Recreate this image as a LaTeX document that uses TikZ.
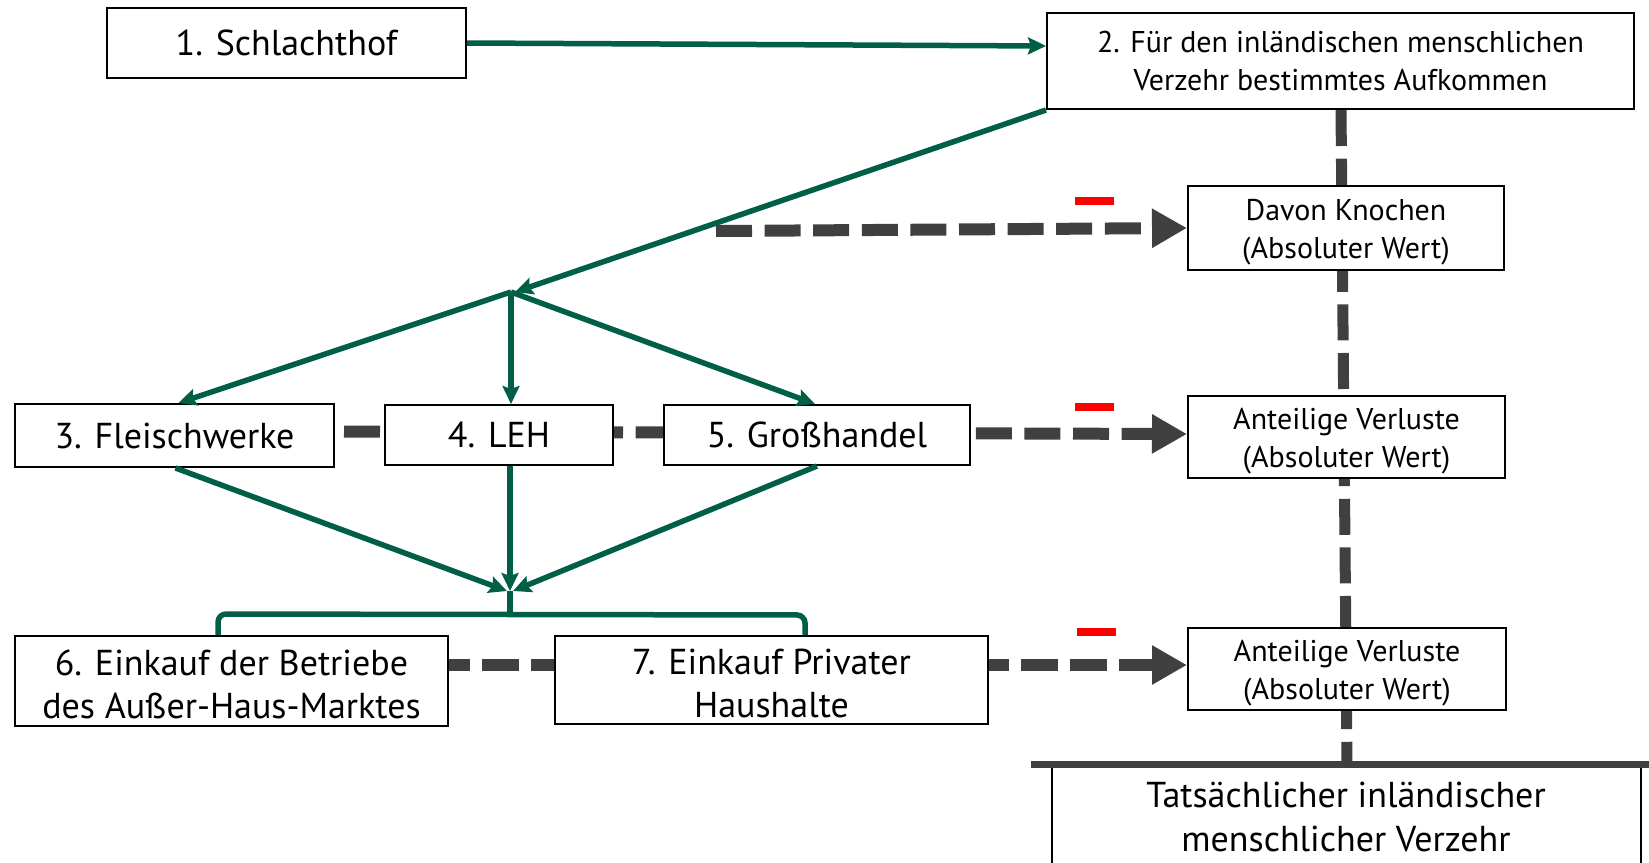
\documentclass[tikz,border=0pt]{standalone}
\usepackage{fontspec}
\setmainfont{PT Sans}
\usetikzlibrary{arrows.meta,backgrounds}
\definecolor{grn}{HTML}{005F46}
\definecolor{dgray}{HTML}{404040}
\definecolor{redm}{HTML}{FF0000}
\newcommand\smalltop{\rule{0pt}{30pt}}
\newcommand\bigtop{\rule{0pt}{32pt}}
\begin{document}
\begin{tikzpicture}[x=1pt,y=-1pt,
  box/.style={draw=black,line width=2pt,fill=white,inner sep=0pt,align=center,font=\fontsize{36}{43}\selectfont},
  smallbox/.style={box,font=\fontsize{30}{38}\selectfont},
  flow/.style={draw=grn,line width=5.5pt,-{Stealth[length=18pt,width=17pt,inset=3pt]}},
  bracket/.style={draw=grn,line width=5.5pt,rounded corners=8pt},
  loss/.style={draw=dgray,line width=12pt,dash pattern=on 36pt off 12.6pt},
  lossarrow/.style={loss,-{Triangle[length=35pt,width=37pt]}},
  minusmark/.style={draw=redm,line width=8.5pt},
]
\useasboundingbox (0,0) rectangle (1649,862);
\clip (0,0) rectangle (1649,862);

% boxes
\node[box,minimum width=359pt,minimum height=70pt] (n1) at (286.5,43) {1. Schlachthof};
\node[smallbox,minimum width=587pt,minimum height=96pt] (n2) at (1340.5,61) {2. Für den inländischen menschlichen\\Verzehr bestimmtes Aufkommen};
\node[smallbox,minimum width=316pt,minimum height=84pt] (kn) at (1346,228) {\smalltop Davon Knochen\\(Absoluter Wert)};
\node[smallbox,minimum width=317pt,minimum height=82pt] (av1) at (1346.5,437) {\smalltop Anteilige Verluste\\(Absoluter Wert)};
\node[smallbox,minimum width=318pt,minimum height=82pt] (av2) at (1347,669) {\smalltop Anteilige Verluste\\(Absoluter Wert)};
\node[box,minimum width=319pt,minimum height=63pt] (n3) at (174.5,435.5) {3. Fleischwerke};
\node[box,minimum width=228pt,minimum height=60pt] (n4) at (499,435) {4. LEH};
\node[box,minimum width=306pt,minimum height=60pt] (n5) at (817,435) {5. Großhandel};
\node[box,minimum width=433pt,minimum height=90pt] (n6) at (231.5,681) {\bigtop 6. Einkauf der Betriebe\\des Außer-Haus-Marktes};
\node[box,minimum width=433pt,minimum height=88pt] (n7) at (771.5,680) {\bigtop 7. Einkauf Privater\\Haushalte};
\node[align=center,inner sep=0pt,font=\fontsize{36}{44}\selectfont] (n8) at (1346,817) {Tatsächlicher inländischer\\menschlicher Verzehr};

% final box frame
\coordinate (barL) at (1031,764);
\coordinate (barR) at (1649,764);
\coordinate (barC) at (1347,764);
\coordinate (sideL) at (1052,764);
\coordinate (sideR) at (1641,764);
\draw[line width=2pt] (sideL) -- (sideL |- 0,880);
\draw[line width=2pt] (sideR) -- (sideR |- 0,880);

% loss lines (behind boxes)
\begin{pgfonlayer}{background}
\draw[loss,line width=11pt] ([xshift=0.5pt]n2.south) -- (barC);
\draw[lossarrow,dash phase=39.6pt] ([yshift=4pt]n3.east) -- ([yshift=3pt]av1.west);
\draw[lossarrow,dash pattern=on 37pt off 12pt,dash phase=15.6pt] ([yshift=16pt]n6.east) -- ([yshift=4pt]av2.west);
\end{pgfonlayer}
\coordinate (ks) at (716,231);
\draw[lossarrow] (ks) -- (kn.west);
\draw[dgray,line width=7pt] (barL) -- (barR);

% red minus marks
\coordinate (m1) at (1075,201);
\coordinate (m2) at (1075,407);
\coordinate (m3) at (1077,632);
\draw[minusmark] (m1) -- ++(39,0);
\draw[minusmark] (m2) -- ++(39,0);
\draw[minusmark] (m3) -- ++(39,0);

% green flows
\coordinate (J) at (511,292);
\coordinate (K) at (510,591);
\draw[flow] (n1.east) -- ([yshift=15pt]n2.west);
\draw[flow] (n2.south west) -- ([xshift=4pt]J);
\draw[flow] (J) -- ([xshift=4pt]n3.north);
\draw[flow] (J) -- (n4.north -| J);
\draw[flow] (J) -- ([xshift=-2pt]n5.north);
\draw[flow] ([xshift=1pt]n3.south) -- ([xshift=-3pt]K);
\draw[flow] (n4.south -| K) -- (K);
\draw[flow] (n5.south) -- ([xshift=3pt]K);
\draw[grn,line width=5.5pt] (K) -- (K |- 0,615);
\draw[bracket] ([xshift=-13.5pt]n6.north) -- ++(0,-21) -- (805,615) -- ([xshift=33.5pt]n7.north);
\end{tikzpicture}
\end{document}
